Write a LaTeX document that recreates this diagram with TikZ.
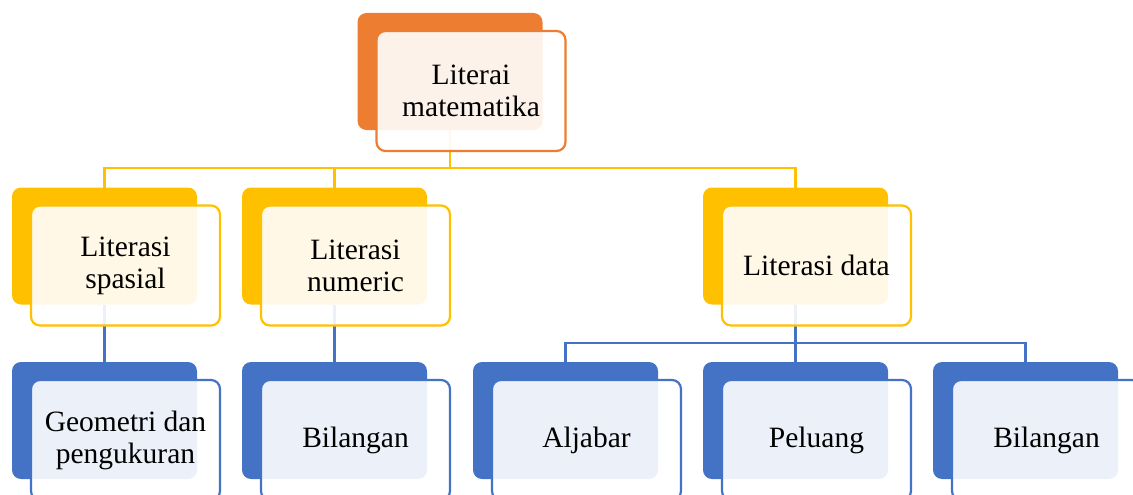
\documentclass[tikz,border=0pt]{standalone}
\usepackage{fontspec}
\setmainfont{Liberation Serif}
\usetikzlibrary{positioning,backgrounds}
\definecolor{kOrange}{HTML}{ED7D31}
\definecolor{kGold}{HTML}{FFC000}
\definecolor{kBlue}{HTML}{4472C4}

\begin{document}
\begin{tikzpicture}[x=1pt, y=-1pt,
  backbox/.style={rounded corners=9pt, minimum width=185pt, minimum height=117pt,
    inner sep=0pt, outer sep=0pt},
  frontbox/.style={rounded corners=9pt, minimum width=189pt, minimum height=120pt,
    inner sep=2pt, outer sep=0pt, line width=2.2pt, fill=white, fill opacity=0.9,
    text opacity=1, align=center, font=\fontsize{29.5}{32}\selectfont},
  link/.style={line width=2.2pt}]
  %----- page -----
  \useasboundingbox (0,0) rectangle (1133,495);
  \clip (0,0) rectangle (1133,495);
  %----- one card: (name, x, y, colour, text) -----
  \def\card#1#2#3#4#5{
    % coloured block behind
    \node[backbox, fill=#4] (#1) at (#2,#3) {};
    % light block in front, shifted down right
    \node[frontbox, draw=#4] (#1f) at ([xshift=21pt,yshift=-19.5pt]#1.center) {#5};
  }
  %----- level 1 -----
  \card{top}{450}{71.5}{kOrange}{Literai\\matematika}
  %----- level 2 -----
  \card{spasial}{104.5}{246}{kGold}{Literasi\\spasial}
  \card{numeric}{334.5}{246}{kGold}{Literasi\\numeric}
  \card{data}{795.5}{246}{kGold}{Literasi data}
  %----- level 3 -----
  \card{geometri}{104.5}{420.5}{kBlue}{Geometri dan\\pengukuran}
  \card{bilA}{334.5}{420.5}{kBlue}{Bilangan}
  \card{aljabar}{565.5}{420.5}{kBlue}{Aljabar}
  \card{peluang}{795.5}{420.5}{kBlue}{Peluang}
  \card{bilB}{1025.5}{420.5}{kBlue}{Bilangan}

  %----- connectors (behind the cards) -----
  \begin{pgfonlayer}{background}
    \coordinate (busA) at (450,168);
    \draw[link, kGold] (top.south) -- (busA) -| (spasial.north);
    \draw[link, kGold] (busA) -| (numeric.north);
    \draw[link, kGold] (busA) -| (data.north);
    \draw[link, kBlue] (spasial.south) -- (geometri.north);
    \draw[link, kBlue] (numeric.south) -- (bilA.north);
    \coordinate (busB) at (795.5,343);
    \draw[link, kBlue] (data.south) -- (busB) -| (aljabar.north);
    \draw[link, kBlue] (busB) -- (peluang.north);
    \draw[link, kBlue] (busB) -| (bilB.north);
  \end{pgfonlayer}
\end{tikzpicture}
\end{document}
